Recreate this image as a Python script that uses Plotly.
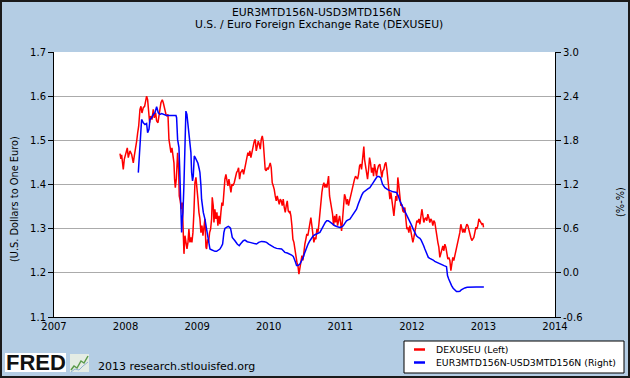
import plotly.graph_objects as go

# ---------------- data ----------------
red_years = [
    2007.922, 2007.935, 2007.945, 2007.968, 2007.982, 2008.006, 2008.024, 2008.038, 2008.061, 2008.085,
    2008.108, 2008.122, 2008.141, 2008.155, 2008.169, 2008.183, 2008.201, 2008.215, 2008.229, 2008.248,
    2008.266, 2008.280, 2008.294, 2008.308, 2008.322, 2008.336, 2008.350, 2008.369, 2008.387, 2008.401,
    2008.420, 2008.434, 2008.453, 2008.466, 2008.480, 2008.494, 2008.513, 2008.527, 2008.546, 2008.564,
    2008.578, 2008.592, 2008.606, 2008.620, 2008.634, 2008.648, 2008.662, 2008.676, 2008.685, 2008.695,
    2008.709, 2008.727, 2008.741, 2008.750, 2008.764, 2008.778, 2008.792, 2008.802, 2008.816, 2008.830,
    2008.844, 2008.858, 2008.872, 2008.885, 2008.899, 2008.913, 2008.927, 2008.941, 2008.955, 2008.969,
    2008.983, 2008.997, 2009.011, 2009.025,
    2009.039, 2009.053, 2009.067, 2009.081, 2009.095, 2009.109, 2009.123, 2009.132, 2009.146, 2009.160,
    2009.174, 2009.188, 2009.202, 2009.211, 2009.225, 2009.235, 2009.248, 2009.262, 2009.276, 2009.290,
    2009.304, 2009.318, 2009.332, 2009.346, 2009.360, 2009.374, 2009.388, 2009.402, 2009.416, 2009.430,
    2009.444, 2009.458, 2009.472, 2009.486, 2009.500, 2009.518, 2009.532, 2009.551, 2009.565, 2009.579,
    2009.593, 2009.607, 2009.621, 2009.635, 2009.649, 2009.667, 2009.681, 2009.695, 2009.709, 2009.723,
    2009.737, 2009.751, 2009.765, 2009.784, 2009.798, 2009.812, 2009.826, 2009.840, 2009.854, 2009.868,
    2009.882, 2009.896, 2009.910, 2009.923, 2009.937, 2009.951, 2009.965, 2009.979, 2009.993, 2010.007,
    2010.021, 2010.035, 2010.049, 2010.063, 2010.077, 2010.091, 2010.105, 2010.119, 2010.133, 2010.147,
    2010.161, 2010.175, 2010.189, 2010.203, 2010.217, 2010.231, 2010.245, 2010.259, 2010.273, 2010.287,
    2010.296, 2010.310, 2010.324, 2010.338, 2010.352, 2010.366, 2010.380, 2010.394, 2010.408, 2010.422,
    2010.436, 2010.450, 2010.464, 2010.478, 2010.492, 2010.505, 2010.519, 2010.533, 2010.547, 2010.561,
    2010.575, 2010.589, 2010.603, 2010.617, 2010.631, 2010.645, 2010.659, 2010.673, 2010.687, 2010.701,
    2010.715, 2010.729, 2010.743, 2010.757, 2010.771, 2010.785, 2010.799, 2010.813, 2010.827, 2010.836,
    2010.850, 2010.864, 2010.878, 2010.892, 2010.906, 2010.920, 2010.934, 2010.948, 2010.962, 2010.976,
    2010.990, 2011.004, 2011.018, 2011.032, 2011.045, 2011.059, 2011.073, 2011.087, 2011.101, 2011.115,
    2011.129, 2011.143, 2011.157, 2011.171, 2011.185, 2011.199, 2011.213, 2011.227, 2011.241, 2011.255,
    2011.269, 2011.283, 2011.297, 2011.311, 2011.320, 2011.329, 2011.339, 2011.353, 2011.367, 2011.381,
    2011.395, 2011.409, 2011.423, 2011.437, 2011.451, 2011.465, 2011.478, 2011.492, 2011.506, 2011.520,
    2011.534,
    2011.553, 2011.567, 2011.581, 2011.595, 2011.609, 2011.623, 2011.637, 2011.651, 2011.660, 2011.669,
    2011.679, 2011.693, 2011.707, 2011.721, 2011.735, 2011.749, 2011.762, 2011.776, 2011.790, 2011.804,
    2011.818, 2011.832, 2011.846, 2011.860, 2011.874, 2011.888, 2011.902, 2011.916, 2011.930, 2011.944,
    2011.958, 2011.972, 2011.986, 2012.000, 2012.014, 2012.028, 2012.042, 2012.056, 2012.070, 2012.084,
    2012.098, 2012.112, 2012.126, 2012.140, 2012.154, 2012.167, 2012.181, 2012.195, 2012.209, 2012.223,
    2012.237, 2012.251, 2012.265, 2012.279, 2012.293, 2012.307, 2012.321, 2012.335, 2012.349, 2012.363,
    2012.377, 2012.391, 2012.405, 2012.419, 2012.433, 2012.447, 2012.461, 2012.475, 2012.489, 2012.503,
    2012.517, 2012.531, 2012.545, 2012.559, 2012.572, 2012.586, 2012.600, 2012.614, 2012.628, 2012.642,
    2012.656, 2012.670, 2012.684, 2012.698, 2012.712, 2012.726, 2012.740, 2012.754, 2012.768, 2012.782,
    2012.796, 2012.810, 2012.824, 2012.838, 2012.852, 2012.866, 2012.880, 2012.894, 2012.908, 2012.922,
    2012.936, 2012.950, 2012.964, 2012.978, 2012.992, 2013.001,
]
red_values = [
    1.470, 1.458, 1.467, 1.434, 1.457, 1.472, 1.483, 1.461, 1.476, 1.468,
    1.449, 1.465, 1.480, 1.498, 1.517, 1.532, 1.570, 1.577, 1.562, 1.574,
    1.577, 1.589, 1.600, 1.592, 1.562, 1.540, 1.555, 1.547, 1.570, 1.551,
    1.562, 1.544, 1.540, 1.562, 1.570, 1.585, 1.592, 1.585, 1.570, 1.559,
    1.555, 1.559, 1.502, 1.483, 1.472, 1.483, 1.465, 1.449, 1.412, 1.393,
    1.412, 1.472, 1.434, 1.374, 1.363, 1.344, 1.359, 1.307, 1.243, 1.284,
    1.269, 1.254, 1.269, 1.299, 1.269, 1.280, 1.269, 1.291, 1.337, 1.404,
    1.416, 1.397, 1.367, 1.337,
    1.322, 1.291, 1.307, 1.284, 1.299, 1.322, 1.258, 1.254, 1.276, 1.269,
    1.291, 1.299, 1.322, 1.371, 1.352, 1.314, 1.344, 1.322, 1.337, 1.307,
    1.329, 1.310, 1.337, 1.359, 1.352, 1.397, 1.412, 1.423, 1.404, 1.397,
    1.412, 1.389, 1.382, 1.401, 1.397, 1.404, 1.416, 1.427, 1.431, 1.438,
    1.412, 1.427, 1.430, 1.434, 1.423, 1.434, 1.449, 1.461, 1.472, 1.465,
    1.476, 1.461, 1.472, 1.491, 1.498, 1.502, 1.476, 1.487, 1.498, 1.491,
    1.480, 1.502, 1.510, 1.498, 1.457, 1.434, 1.431, 1.438, 1.434, 1.446,
    1.449, 1.438, 1.404, 1.397, 1.389, 1.374, 1.363, 1.374, 1.359, 1.355,
    1.367, 1.363, 1.352, 1.367, 1.348, 1.337, 1.352, 1.363, 1.340, 1.337,
    1.340, 1.329, 1.307, 1.276, 1.269, 1.246, 1.239, 1.224, 1.216, 1.197,
    1.213, 1.231, 1.239, 1.228, 1.254, 1.265, 1.276, 1.288, 1.284, 1.299,
    1.310, 1.325, 1.307, 1.291, 1.269, 1.280, 1.276, 1.299, 1.291, 1.310,
    1.337, 1.363, 1.382, 1.397, 1.404, 1.393, 1.401, 1.393, 1.404, 1.419,
    1.374, 1.363, 1.352, 1.333, 1.307, 1.329, 1.314, 1.333, 1.307, 1.318,
    1.329, 1.314, 1.295, 1.322, 1.363, 1.378, 1.371, 1.355, 1.367, 1.352,
    1.363, 1.374, 1.382, 1.397, 1.408, 1.412, 1.419, 1.415, 1.412, 1.423,
    1.442, 1.446, 1.434, 1.457, 1.483, 1.486, 1.457, 1.442, 1.427, 1.412,
    1.434, 1.461, 1.449, 1.427, 1.438, 1.419, 1.446, 1.427, 1.419, 1.434,
    1.442,
    1.446, 1.427, 1.416, 1.431, 1.434, 1.446, 1.450, 1.434, 1.419, 1.401,
    1.374, 1.367, 1.382, 1.363, 1.344, 1.329, 1.352, 1.374, 1.363, 1.416,
    1.397, 1.363, 1.352, 1.355, 1.340, 1.337, 1.348, 1.322, 1.299, 1.303,
    1.291, 1.307, 1.291, 1.273, 1.269, 1.280, 1.291, 1.307, 1.318, 1.314,
    1.322, 1.310, 1.325, 1.344, 1.329, 1.314, 1.322, 1.325, 1.318, 1.333,
    1.325, 1.314, 1.322, 1.318, 1.307, 1.318, 1.314, 1.303, 1.284, 1.269,
    1.258, 1.235, 1.246, 1.254, 1.261, 1.250, 1.265, 1.258, 1.243, 1.231,
    1.235, 1.228, 1.205, 1.224, 1.235, 1.228, 1.239, 1.250, 1.254, 1.265,
    1.276, 1.291, 1.310, 1.303, 1.291, 1.299, 1.291, 1.303, 1.310, 1.307,
    1.295, 1.291, 1.280, 1.273, 1.276, 1.280, 1.291, 1.303, 1.299, 1.307,
    1.322, 1.318, 1.314, 1.310, 1.312, 1.303,
]

blue_years = [
    2008.178, 2008.192, 2008.201, 2008.215, 2008.224, 2008.248, 2008.271, 2008.294, 2008.308, 2008.327,
    2008.341, 2008.364, 2008.387, 2008.410, 2008.434, 2008.457, 2008.480, 2008.504, 2008.527, 2008.573,
    2008.704, 2008.713, 2008.727, 2008.746, 2008.755, 2008.764, 2008.774, 2008.783, 2008.792, 2008.802,
    2008.815, 2008.829, 2008.843, 2008.857, 2008.871, 2008.885, 2008.899, 2008.913, 2008.923, 2008.936,
    2008.946, 2008.960, 2008.974, 2008.992, 2009.011, 2009.030,
    2009.039, 2009.053, 2009.062, 2009.086, 2009.109, 2009.132, 2009.155, 2009.179, 2009.200, 2009.225,
    2009.250, 2009.272, 2009.295, 2009.318, 2009.340, 2009.356, 2009.374, 2009.388, 2009.410, 2009.435,
    2009.455, 2009.467, 2009.491, 2009.510, 2009.528, 2009.560, 2009.588, 2009.605, 2009.621, 2009.645,
    2009.668, 2009.700, 2009.737, 2009.780, 2009.830, 2009.860, 2009.900, 2009.940, 2009.970, 2010.000,
    2010.040, 2010.075, 2010.110, 2010.145, 2010.180, 2010.205, 2010.226, 2010.260, 2010.296, 2010.320,
    2010.343, 2010.360, 2010.375, 2010.389, 2010.410, 2010.436, 2010.460, 2010.482, 2010.505, 2010.529,
    2010.550, 2010.575, 2010.600, 2010.622, 2010.645, 2010.668, 2010.690, 2010.715, 2010.740, 2010.762,
    2010.790, 2010.810, 2010.832, 2010.855, 2010.878, 2010.900, 2010.925, 2010.960, 2010.994, 2011.020,
    2011.041, 2011.065, 2011.087, 2011.110, 2011.134, 2011.160, 2011.180, 2011.205, 2011.227, 2011.250,
    2011.274, 2011.300, 2011.320, 2011.345, 2011.367, 2011.390, 2011.413, 2011.440, 2011.460, 2011.490,
    2011.516, 2011.540, 2011.563, 2011.590, 2011.623, 2011.669, 2011.700, 2011.739, 2011.786, 2011.810,
    2011.832, 2011.855, 2011.879, 2011.900, 2011.925, 2011.950, 2011.972, 2011.995, 2012.019, 2012.040,
    2012.065, 2012.090, 2012.112, 2012.130, 2012.149, 2012.165, 2012.182, 2012.200, 2012.214, 2012.230,
    2012.251, 2012.275, 2012.298, 2012.320, 2012.345, 2012.380, 2012.414, 2012.450, 2012.484, 2012.490,
    2012.498, 2012.515, 2012.531, 2012.555, 2012.577, 2012.600, 2012.624, 2012.650, 2012.670, 2012.690,
    2012.708, 2012.740, 2012.773, 2012.820, 2012.857, 2012.900, 2012.950, 2013.006,
]
blue_values = [
    1.362, 1.633, 1.768, 1.994, 2.084, 2.039, 2.016, 2.030, 1.903, 1.949,
    2.084, 2.107, 2.152, 2.174, 2.256, 2.174, 2.152, 2.165, 2.152, 2.138,
    2.138, 2.107, 1.813, 1.700, 1.452, 1.091, 0.865, 0.549, 0.730, 0.820,
    1.181, 1.723, 2.197, 2.152, 2.016, 1.949, 1.813, 1.633, 1.362, 1.249,
    1.317, 1.587, 1.565, 1.520, 1.488, 1.407,
    1.362, 1.181, 1.000, 0.820, 0.730, 0.594, 0.459, 0.323, 0.314, 0.301,
    0.292, 0.292, 0.310, 0.323, 0.360, 0.391, 0.549, 0.603, 0.617, 0.630,
    0.617, 0.603, 0.481, 0.450, 0.436, 0.391, 0.368, 0.391, 0.414, 0.436,
    0.445, 0.423, 0.414, 0.405, 0.391, 0.414, 0.427, 0.423, 0.414, 0.391,
    0.360, 0.346, 0.332, 0.332, 0.323, 0.301, 0.278, 0.269, 0.256, 0.242,
    0.224, 0.188, 0.143, 0.098, 0.098, 0.120, 0.165, 0.210, 0.278, 0.346,
    0.391, 0.436, 0.481, 0.504, 0.517, 0.526, 0.535, 0.549, 0.594, 0.639,
    0.684, 0.707, 0.707, 0.693, 0.675, 0.648, 0.639, 0.626, 0.617, 0.626,
    0.639, 0.675, 0.707, 0.720, 0.730, 0.766, 0.797, 0.829, 0.865, 0.933,
    1.000, 1.055, 1.091, 1.113, 1.127, 1.145, 1.158, 1.190, 1.226, 1.271,
    1.307, 1.307, 1.294, 1.204, 1.158, 1.127, 1.113, 1.100, 1.091, 1.046,
    0.978, 0.933, 0.888, 0.843, 0.797, 0.752, 0.707, 0.648, 0.594, 0.549,
    0.504, 0.481, 0.468, 0.445, 0.414, 0.368, 0.323, 0.278, 0.233, 0.210,
    0.197, 0.188, 0.174, 0.156, 0.143, 0.129, 0.111, 0.098, 0.084, 0.030,
    -0.038, -0.083, -0.128, -0.173, -0.209, -0.236, -0.255, -0.255, -0.250, -0.232,
    -0.218, -0.205, -0.196, -0.191, -0.191, -0.191, -0.191, -0.191,
]

x_ticks = [2007, 2008, 2009, 2010, 2011, 2012, 2013, 2014]
left_ticks = [1.1, 1.2, 1.3, 1.4, 1.5, 1.6, 1.7]
right_ticks = [-0.6, 0.0, 0.6, 1.2, 1.8, 2.4, 3.0]

title_lines = ["EUR3MTD156N-USD3MTD156N", "U.S. / Euro Foreign Exchange Rate (DEXUSEU)"]
legend_names = ["DEXUSEU (Left)", "EUR3MTD156N-USD3MTD156N (Right)"]

# ---------------- layout helpers ----------------
W, H = 630, 378
L, R, T, B = 54, 555, 52, 317
BG = "#B4CDE4"
FONT = "DejaVu Sans"


def px(x):
    return (x - L) / (R - L)


def py(y):
    return (B - y) / (B - T)


fig = go.Figure()
fig.add_trace(go.Scatter(x=red_years, y=red_values, mode="lines", name=legend_names[0],
                         line=dict(color="#FF0000", width=1.5), yaxis="y"))
fig.add_trace(go.Scatter(x=blue_years, y=blue_values, mode="lines", name=legend_names[1],
                         line=dict(color="#0000FF", width=1.5), yaxis="y2"))

axis_font = dict(family=FONT, size=10, color="#000000")

fig.update_layout(
    width=W, height=H,
    margin=dict(l=L, r=W - R, t=T, b=H - B, pad=0),
    paper_bgcolor=BG, plot_bgcolor="#FFFFFF",
    showlegend=False,
    font=axis_font,
    xaxis=dict(range=[2007, 2014], tickvals=x_ticks, ticktext=[str(v) for v in x_ticks],
               showgrid=False, zeroline=False, showline=True, linecolor="#000000", linewidth=1,
               ticks="", tickfont=axis_font, mirror=False),
    yaxis=dict(range=[1.1, 1.7], tickvals=left_ticks, ticktext=[f"{v:.1f}" for v in left_ticks],
               showgrid=True, gridcolor="#ABABAB", gridwidth=1, zeroline=False,
               showline=True, linecolor="#000000", linewidth=1,
               ticks="outside", ticklen=5, tickcolor="#000000", tickfont=axis_font),
    yaxis2=dict(range=[-0.6, 3.0], tickvals=right_ticks, ticktext=[f"{v:.1f}" for v in right_ticks],
                overlaying="y", side="right", showgrid=False, zeroline=False,
                showline=True, linecolor="#000000", linewidth=1,
                ticks="outside", ticklen=5, tickcolor="#000000", tickfont=axis_font),
)

shapes = []
annotations = []

# titles
annotations.append(dict(text=title_lines[0], x=px(316), y=py(12), xref="paper", yref="paper",
                        showarrow=False, xanchor="center", yanchor="middle",
                        font=dict(family=FONT, size=10.8, color="#000000")))
annotations.append(dict(text=title_lines[1], x=px(319), y=py(24.5), xref="paper", yref="paper",
                        showarrow=False, xanchor="center", yanchor="middle",
                        font=dict(family=FONT, size=10.8, color="#000000")))
# axis titles
annotations.append(dict(text="(U.S. Dollars to One Euro)", x=px(14), y=py(199), xref="paper", yref="paper",
                        showarrow=False, textangle=-90, xanchor="center", yanchor="middle",
                        font=dict(family=FONT, size=9.8, color="#000000")))
annotations.append(dict(text="(%-%)", x=px(620), y=py(202), xref="paper", yref="paper",
                        showarrow=False, textangle=-90, xanchor="center", yanchor="middle",
                        font=dict(family=FONT, size=9.8, color="#000000")))

# outer frame
shapes.append(dict(type="rect", xref="paper", yref="paper", x0=px(1), x1=px(629), y0=py(377), y1=py(1),
                   line=dict(color="#1A1A1A", width=2), fillcolor="rgba(0,0,0,0)", layer="above"))

# legend box
shapes.append(dict(type="rect", xref="paper", yref="paper", x0=px(404), x1=px(624), y0=py(373), y1=py(341),
                   line=dict(color="#000000", width=1), fillcolor="#FFFFFF", layer="above"))
for i, (col, yy) in enumerate([("#FF0000", 349.5), ("#0000FF", 362.5)]):
    shapes.append(dict(type="line", xref="paper", yref="paper", x0=px(414), x1=px(425), y0=py(yy), y1=py(yy),
                       line=dict(color=col, width=2.5), layer="above"))
    annotations.append(dict(text=legend_names[i], x=px(434), y=py(yy), xref="paper", yref="paper",
                            showarrow=False, xanchor="left", yanchor="middle",
                            font=dict(family=FONT, size=9.3, color="#000000")))

# FRED logo
shapes.append(dict(type="rect", xref="paper", yref="paper", x0=px(5), x1=px(66), y0=py(372), y1=py(353),
                   line=dict(width=0), fillcolor="#FFFFFF", layer="above"))
annotations.append(dict(text="<b>FRED</b>", x=px(35.5), y=py(362.5), xref="paper", yref="paper",
                        showarrow=False, xanchor="center", yanchor="middle",
                        font=dict(family="Liberation Sans", size=22, color="#111111")))
shapes.append(dict(type="rect", xref="paper", yref="paper", x0=px(70), x1=px(89), y0=py(372), y1=py(354),
                   line=dict(width=0), fillcolor="#E4ECE4", layer="above"))
shapes.append(dict(type="path", xref="paper", yref="paper",
                   path=f"M {px(71)},{py(370)} L {px(74)},{py(366)} L {px(77)},{py(368)} L {px(81)},{py(361)} L {px(84)},{py(363)} L {px(88)},{py(356)}",
                   line=dict(color="#5A9A4A", width=1.5), layer="above"))
shapes.append(dict(type="path", xref="paper", yref="paper",
                   path=f"M {px(71)},{py(372)} L {px(75)},{py(369)} L {px(79)},{py(370)} L {px(83)},{py(366)} L {px(88)},{py(362)}",
                   line=dict(color="#8FB0D0", width=1), layer="above"))
annotations.append(dict(text="2013 research.stlouisfed.org", x=px(96), y=py(366), xref="paper", yref="paper",
                        showarrow=False, xanchor="left", yanchor="middle",
                        font=dict(family=FONT, size=11, color="#000000")))

fig.update_layout(shapes=shapes, annotations=annotations)
fig.write_html("out.html", config={"displayModeBar": False},
               post_script="document.body.style.margin='0';document.body.style.overflow='hidden';")
